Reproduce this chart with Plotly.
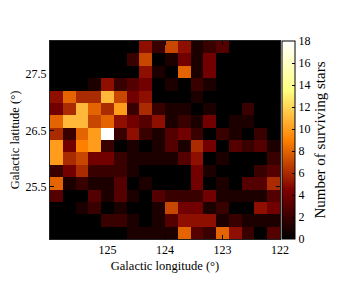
import plotly.graph_objects as go

# Galactic longitude bin edges (deg), left (126) to right (122)
lon_edges = [126 - i * (4.0 / 18) for i in range(19)]
# Galactic latitude bin edges (deg), bottom to top
lat_edges = [24.58 + i * (3.5 / 16) for i in range(17)]

# Counts of surviving stars; rows listed from top (high latitude) to bottom
counts_top_to_bottom = [
    [0, 0, 0, 0, 0, 0, 0, 5, 2, 7, 5, 1, 2, 3, 0, 0, 0, 0],
    [0, 0, 0, 0, 0, 0, 2, 7, 0, 1, 4, 1, 4, 0, 0, 0, 0, 0],
    [0, 0, 0, 0, 0, 0, 0, 5, 1, 0, 8, 1, 4, 0, 0, 0, 0, 0],
    [0, 0, 0, 1, 5, 2, 3, 4, 0, 1, 0, 2, 1, 0, 0, 0, 0, 0],
    [5, 8, 6, 6, 11, 7, 4, 5, 0, 0, 0, 1, 0, 0, 0, 0, 0, 0],
    [4, 6, 11, 8, 6, 10, 2, 6, 2, 1, 1, 0, 1, 0, 0, 2, 0, 0],
    [8, 11, 11, 7, 8, 5, 4, 3, 5, 1, 2, 1, 4, 0, 1, 1, 0, 0],
    [6, 2, 8, 10, 18, 2, 5, 2, 1, 3, 4, 2, 0, 2, 1, 0, 2, 0],
    [10, 4, 9, 10, 2, 0, 1, 0, 1, 3, 1, 6, 4, 0, 3, 2, 3, 1],
    [10, 6, 7, 4, 4, 2, 1, 1, 1, 1, 3, 5, 0, 1, 0, 0, 0, 2],
    [2, 4, 6, 2, 2, 2, 1, 0, 0, 0, 0, 4, 1, 0, 0, 0, 2, 3],
    [8, 1, 2, 1, 1, 3, 0, 1, 0, 0, 0, 4, 0, 1, 0, 3, 3, 6],
    [3, 0, 0, 3, 1, 3, 1, 0, 3, 2, 2, 2, 4, 1, 1, 1, 1, 3],
    [0, 0, 1, 2, 0, 1, 0, 0, 1, 7, 4, 4, 1, 2, 0, 0, 5, 4],
    [0, 0, 0, 0, 2, 2, 1, 0, 1, 3, 5, 5, 5, 1, 2, 1, 1, 1],
    [0, 0, 0, 0, 0, 0, 1, 1, 1, 1, 8, 3, 2, 8, 5, 2, 0, 3],
]
counts = counts_top_to_bottom[::-1]

x_ticks = [125, 124, 123, 122]
y_ticks = [25.5, 26.5, 27.5]
cbar_ticks = [0, 2, 4, 6, 8, 10, 12, 14, 16, 18]

afmhot = [
    [0.0, "rgb(0,0,0)"],
    [0.25, "rgb(128,0,0)"],
    [0.5, "rgb(255,128,0)"],
    [0.75, "rgb(255,255,128)"],
    [1.0, "rgb(255,255,255)"],
]

FONT = "Liberation Serif"

fig = go.Figure(
    go.Heatmap(
        x=lon_edges,
        y=lat_edges,
        z=counts,
        zmin=0,
        zmax=18,
        colorscale=afmhot,
        colorbar=dict(
            x=1.008,
            xanchor="left",
            y=0.5,
            yanchor="middle",
            len=1.0,
            lenmode="fraction",
            thickness=13,
            outlinecolor="black",
            outlinewidth=1,
            ticks="inside",
            ticklen=3,
            tickcolor="black",
            tickvals=cbar_ticks,
            tickfont=dict(family=FONT, size=12, color="black"),
            title=dict(
                text="Number of surviving stars",
                side="right",
                font=dict(family=FONT, size=15, color="black"),
            ),
            xpad=0,
            ypad=0,
        ),
    )
)

fig.update_layout(
    width=332,
    height=282,
    margin=dict(l=42, r=60, t=33, b=51, autoexpand=False),
    paper_bgcolor="white",
    plot_bgcolor="black",
    font=dict(family=FONT, color="black"),
    xaxis=dict(
        range=[126, 122],
        tickvals=x_ticks,
        ticks="inside",
        ticklen=4,
        tickcolor="black",
        showline=True,
        linecolor="#222",
        linewidth=1,
        mirror="ticks",
        showgrid=False,
        zeroline=False,
        automargin=False,
        tickfont=dict(family=FONT, size=12),
        title=dict(text="Galactic longitude (°)", font=dict(family=FONT, size=12.5), standoff=4),
    ),
    yaxis=dict(
        range=[24.58, 28.08],
        tickvals=y_ticks,
        ticks="inside",
        ticklen=4,
        tickcolor="black",
        showline=True,
        linecolor="#222",
        linewidth=1,
        mirror="ticks",
        showgrid=False,
        zeroline=False,
        automargin=False,
        tickfont=dict(family=FONT, size=12),
        title=dict(text="Galactic latitude (°)", font=dict(family=FONT, size=12.5), standoff=4),
    ),
)

fig.write_html("out.html")
